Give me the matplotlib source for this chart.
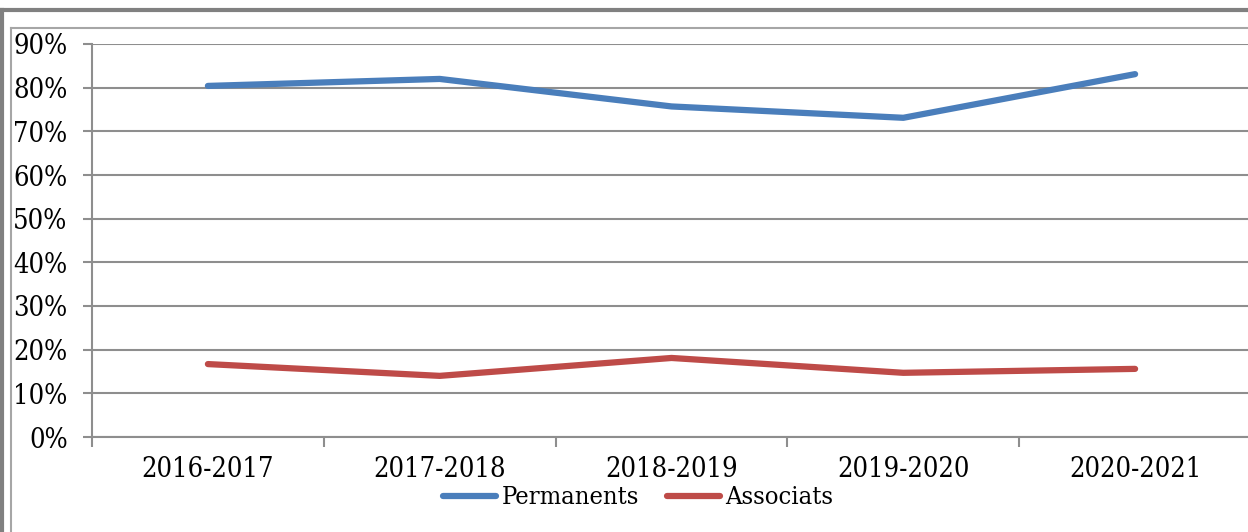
import matplotlib
matplotlib.use('Agg')
import matplotlib.pyplot as plt
from matplotlib.lines import Line2D
from matplotlib.ticker import FixedLocator, NullFormatter

# data
years = ['2016-2017', '2017-2018', '2018-2019', '2019-2020', '2020-2021']
permanents = [80.4, 82.0, 75.7, 73.1, 83.1]
associats = [16.7, 14.0, 18.1, 14.7, 15.6]
y_ticks = [0, 10, 20, 30, 40, 50, 60, 70, 80, 90]

plt.rcParams['font.family'] = ['DejaVu Serif']
plt.rcParams['font.stretch'] = 'condensed'

W, H = 1248, 532
fig = plt.figure(figsize=(W / 100, H / 100), dpi=100)
fig.patch.set_facecolor('white')

# axes box in pixel terms: left 92, right 1251, top 44, bottom 437
ax = fig.add_axes([92 / W, 1 - 437 / H, (1251 - 92) / W, (437 - 44) / H])

grid_col = '#8E8E8E'
x = list(range(len(years)))
ax.plot(x, permanents, color='#4A7EBB', lw=4.5, solid_capstyle='round',
        solid_joinstyle='round', label='Permanents', clip_on=False)
ax.plot(x, associats, color='#BE4B48', lw=4.5, solid_capstyle='round',
        solid_joinstyle='round', label='Associats', clip_on=False)

ax.set_xlim(-0.5, len(years) - 0.5)
ax.set_ylim(0, 90)
ax.set_yticks(y_ticks)
ax.set_yticklabels([f'{v}%' for v in y_ticks])
ax.set_xticks(x)
ax.set_xticklabels(years)
ax.xaxis.set_minor_locator(FixedLocator([i - 0.5 for i in range(len(years) + 1)]))
ax.xaxis.set_minor_formatter(NullFormatter())

for s in ['top', 'right']:
    ax.spines[s].set_visible(False)
for s in ['left', 'bottom']:
    ax.spines[s].set_color(grid_col)
    ax.spines[s].set_linewidth(1.5)

ax.yaxis.grid(True, color=grid_col, lw=1.5)
ax.set_axisbelow(True)
ax.tick_params(axis='y', length=6.5, width=1.5, color=grid_col, pad=11, labelsize=19.5)
ax.tick_params(axis='x', which='major', length=0, pad=14, labelsize=19.5)
ax.tick_params(axis='x', which='minor', length=7, width=1.5, color=grid_col)

fig.legend(loc='center', bbox_to_anchor=(638 / W, 1 - 498 / H), ncol=2,
           frameon=False, fontsize=18.3, handlelength=2.1, handletextpad=0.2,
           columnspacing=1.1, borderpad=0)

# outer and inner frame lines (top and left edges)
fig.add_artist(Line2D([0, 1], [1 - 10 / H, 1 - 10 / H], transform=fig.transFigure,
                      color='#808080', lw=3))
fig.add_artist(Line2D([1.5 / W, 1.5 / W], [0, 1 - 10 / H], transform=fig.transFigure,
                      color='#808080', lw=3))
fig.add_artist(Line2D([11 / W, 1], [1 - 28 / H, 1 - 28 / H], transform=fig.transFigure,
                      color='#A6A6A6', lw=1.5))
fig.add_artist(Line2D([11 / W, 11 / W], [0, 1 - 28 / H], transform=fig.transFigure,
                      color='#A6A6A6', lw=1.5))

fig.savefig('out.png', dpi=100)
